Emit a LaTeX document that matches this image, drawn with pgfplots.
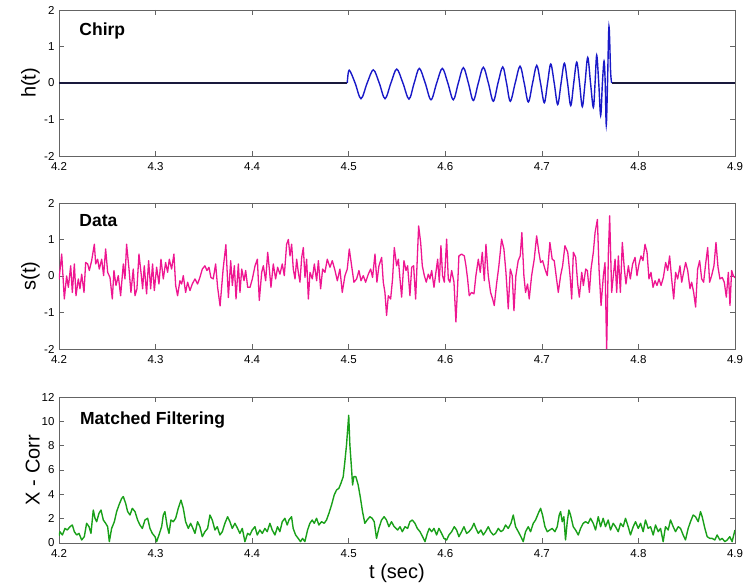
\documentclass[border=0pt]{standalone}
\usepackage{fontspec}
\setmainfont{Liberation Sans}
\usepackage{pgfplots}
\pgfplotsset{compat=1.18}
\definecolor{chirpblue}{RGB}{25,25,200}
\definecolor{chirpflat}{RGB}{25,25,60}
\definecolor{datamag}{RGB}{238,22,145}
\definecolor{corrgreen}{RGB}{25,160,25}
\definecolor{frame}{RGB}{100,100,100}

\pgfplotsset{
  panel/.style={
    scale only axis, width=676pt, height=146pt,
    xmin=4.2, xmax=4.9,
    xtick={4.2,4.3,4.4,4.5,4.6,4.7,4.8,4.9},
    xticklabels={4.2,4.3,4.4,4.5,4.6,4.7,4.8,4.9},
    tick align=inside, major tick length=5pt,
    tick style={color=frame, line width=0.6pt},
    axis line style={color=frame, line width=0.9pt},
    ticklabel style={font=\fontsize{11.5}{12}\selectfont},
    xticklabel style={yshift=-3pt},
    yticklabel style={xshift=-1pt},
    ylabel style={font=\fontsize{20}{22}\selectfont, at={(axis description cs:-0.028,0.5)}, anchor=south, inner sep=0pt},
    xlabel style={font=\fontsize{20}{22}\selectfont, at={(axis description cs:0.5,-0.14)}, anchor=north, inner sep=0pt},
    anchor=south west,
  },
}
\tikzset{paneltitle/.style={anchor=west, font=\bfseries\fontsize{17.5}{19}\selectfont, inner sep=0pt}}

\begin{document}
\begin{tikzpicture}

% Chirp
\begin{axis}[panel, at={(0pt,387pt)}, ymin=-2, ymax=2,
  ytick={-2,-1,0,1,2}, yticklabels={-2,-1,0,1,2}, ylabel={h(t)}]
\addplot[chirpflat, line width=1.2pt] coordinates {(4.2,0) (4.4985,0)};
\addplot[chirpflat, line width=1.2pt] coordinates {(4.7723,0) (4.9,0)};
\addplot[chirpblue, line width=1.4pt, smooth, tension=0.55] coordinates {
(4.4985,0) (4.5005,0.35) (4.5066,0) (4.5127,-0.43) (4.5191,0) (4.5255,0.36) (4.5316,0) (4.5376,-0.43)
(4.5437,0) (4.5497,0.38) (4.5561,0) (4.5624,-0.44) (4.5678,0) (4.5731,0.40) (4.5792,0) (4.5852,-0.46)
(4.5911,0) (4.5969,0.40) (4.6026,0) (4.6083,-0.46) (4.6135,0) (4.6187,0.42) (4.6239,0) (4.6290,-0.48)
(4.6342,0) (4.6394,0.43) (4.6446,0) (4.6497,-0.50) (4.6546,0) (4.6595,0.44) (4.6634,0) (4.6673,-0.50)
(4.6724,0) (4.6774,0.46) (4.6817,0) (4.6860,-0.52) (4.6904,0) (4.6947,0.48) (4.6986,0) (4.7025,-0.54)
(4.7059,0) (4.7092,0.52) (4.7128,0) (4.7164,-0.59) (4.7199,0) (4.7233,0.54) (4.7266,0) (4.7299,-0.62)
(4.7330,0) (4.7361,0.57) (4.7390,0) (4.7419,-0.65) (4.7447,0) (4.7475,0.70) (4.7504,0) (4.7533,-0.67)
(4.7551,0) (4.7568,0.76) (4.7589,0) (4.7609,-0.89) (4.7627,0) (4.7644,0.60) (4.7656,0) (4.7667,-1.15)
(4.7680,0) (4.7695,1.55) (4.7712,0.30) (4.7723,0)};
\node[paneltitle] at (axis description cs:0.03,0.856) {Chirp};
\end{axis}

% Data
\begin{axis}[panel, at={(0pt,194pt)}, ymin=-2, ymax=2,
  ytick={-2,-1,0,1,2}, yticklabels={-2,-1,0,1,2}, ylabel={s(t)}]
\addplot[datamag, line width=1.3pt, line join=round] coordinates {
(4.2000,-0.10)(4.2028,0.60)(4.2055,-0.63)(4.2079,0.00)(4.2097,-0.31)(4.2121,0.28)(4.2138,-0.45)(4.2159,0.33)(4.2176,-0.54)(4.2200,-0.08)(4.2217,-0.35)(4.2235,0.05)(4.2259,-0.45)(4.2276,0.37)(4.2297,0.33)(4.2314,0.15)(4.2338,0.42)(4.2366,0.87)(4.2380,0.33)(4.2400,0.46)(4.2417,0.19)(4.2442,0.46)(4.2462,0.01)(4.2483,0.74)(4.2504,0.10)(4.2528,-0.04)(4.2552,-0.63)(4.2569,0.15)(4.2590,-0.26)(4.2614,0.01)(4.2638,-0.54)(4.2666,0.33)(4.2683,-0.08)(4.2700,0.87)(4.2725,0.19)(4.2745,-0.45)(4.2769,0.19)(4.2787,-0.54)(4.2807,-0.35)(4.2828,0.60)(4.2849,0.10)(4.2866,-0.35)(4.2883,0.28)(4.2907,-0.49)(4.2928,0.42)(4.2949,-0.35)(4.2969,0.33)(4.2987,-0.40)(4.3011,0.24)(4.3035,-0.22)(4.3056,0.46)(4.3080,-0.08)(4.3104,0.37)(4.3125,0.10)(4.3142,0.46)(4.3166,0.19)(4.3190,0.60)(4.3208,-0.26)(4.3228,-0.54)(4.3252,-0.13)(4.3270,-0.22)(4.3287,0.01)(4.3311,-0.45)(4.3332,-0.17)(4.3356,-0.40)(4.3380,-0.22)(4.3408,-0.08)(4.3435,-0.22)(4.3459,-0.04)(4.3484,0.19)(4.3511,0.28)(4.3532,0.15)(4.3553,0.24)(4.3573,-0.04)(4.3597,-0.08)(4.3622,0.33)(4.3642,-0.30)(4.3668,-0.82)(4.3700,0.20)(4.3728,0.86)
(4.3754,-0.59)(4.3778,0.42)(4.3795,-0.26)(4.3816,0.28)(4.3833,-0.63)(4.3857,0.33)(4.3874,-0.45)(4.3892,0.19)(4.3916,-0.13)(4.3933,0.15)(4.3954,-0.31)(4.3978,-0.31)(4.4002,-0.08)(4.4030,0.28)(4.4054,0.46)(4.4074,-0.67)(4.4099,0.10)(4.4116,0.28)(4.4140,-0.13)(4.4161,0.65)(4.4178,0.19)(4.4195,-0.31)(4.4219,0.33)(4.4243,-0.08)(4.4264,0.24)(4.4288,0.05)(4.4312,0.33)(4.4333,0.01)(4.4357,0.87)(4.4375,1.00)(4.4392,0.55)(4.4409,0.87)(4.4426,0.19)(4.4444,-0.08)(4.4461,0.46)(4.4478,0.10)(4.4495,-0.17)(4.4513,0.51)(4.4530,0.78)(4.4547,-0.04)(4.4564,0.46)(4.4582,-0.63)(4.4599,0.10)(4.4623,-0.08)(4.4644,0.33)(4.4668,-0.13)(4.4686,0.42)(4.4709,-0.35)(4.4730,0.19)(4.4754,0.10)(4.4778,0.46)(4.4806,0.24)(4.4830,0.42)(4.4858,0.15)(4.4882,-0.13)(4.4909,0.19)(4.4933,-0.45)(4.4961,0.01)(4.4985,0.19)(4.5006,0.74)(4.5030,0.28)(4.5054,-0.17)(4.5082,-0.08)(4.5106,0.15)(4.5127,-0.13)(4.5151,0.01)(4.5175,-0.17)(4.5203,0.05)(4.5227,0.19)(4.5247,-0.04)(4.5272,0.60)(4.5292,-0.17)(4.5313,0.28)(4.5341,0.51)(4.5358,-0.17)(4.5375,-0.45)(4.5392,-1.08)(4.5410,-0.54)(4.5434,-0.63)(4.5454,-0.08)(4.5472,0.78)(4.5496,0.28)
(4.5514,0.46)(4.5531,-0.08)(4.5548,-0.58)(4.5572,0.42)(4.5593,0.15)(4.5610,0.28)(4.5634,-0.54)(4.5652,0.24)(4.5672,0.28)(4.5693,-0.63)(4.5707,0.28)(4.5724,1.37)(4.5745,0.92)(4.5762,0.28)(4.5783,0.01)(4.5803,-0.17)(4.5824,0.05)(4.5841,-0.08)(4.5859,0.15)(4.5883,-0.31)(4.5903,0.10)(4.5921,0.46)(4.5938,-0.17)(4.5955,0.83)(4.5972,0.01)(4.5990,-0.17)(4.6014,1.01)(4.6031,-0.08)(4.6048,-0.17)(4.6066,0.15)(4.6090,-0.17)(4.6110,-1.26)(4.6128,-0.26)(4.6141,0.55)(4.6169,0.60)(4.6197,0.55)(4.6214,0.28)(4.6231,-0.08)(4.6248,-0.54)(4.6272,-0.45)(4.6297,-0.49)(4.6317,0.01)(4.6342,0.46)(4.6362,0.10)(4.6383,0.65)(4.6404,-0.13)(4.6421,0.87)(4.6445,0.01)(4.6469,-0.45)(4.6490,-0.63)(4.6507,-0.81)(4.6531,-0.22)(4.6555,0.28)(4.6583,1.01)(4.6607,0.74)(4.6628,0.10)(4.6652,-0.90)(4.6673,0.19)(4.6693,0.01)(4.6711,-0.95)(4.6731,0.01)(4.6755,0.42)(4.6776,0.55)(4.6793,1.19)(4.6814,0.01)(4.6831,-0.45)(4.6852,-0.22)(4.6869,-0.63)(4.6894,0.01)(4.6921,0.46)(4.6946,1.10)(4.6969,0.65)(4.6987,0.37)(4.7008,0.42)(4.7032,0.19)(4.7056,0.01)(4.7083,0.92)(4.7107,0.46)(4.7128,0.42)(4.7152,-0.08)(4.7170,-0.45)(4.7194,0.01)(4.7215,0.28)(4.7239,0.83)
(4.7268,0.65)(4.7292,0.01)(4.7309,-0.63)(4.7326,0.65)(4.7350,0.51)(4.7371,-0.22)(4.7388,-0.58)(4.7413,0.10)(4.7430,-0.26)(4.7454,0.19)(4.7471,0.15)(4.7492,-0.45)(4.7509,0.19)(4.7533,0.65)(4.7551,1.19)(4.7575,1.55)(4.7592,0.19)(4.7613,-0.81)(4.7637,0.01)(4.7654,0.37)(4.7671,-2.05)(4.7689,0.65)(4.7702,1.65)(4.7723,-0.45)(4.7740,0.01)(4.7758,0.46)(4.7775,-0.45)(4.7792,0.55)(4.7813,-0.45)(4.7833,0.92)(4.7854,0.19)(4.7871,-0.22)(4.7896,0.28)(4.7916,-0.08)(4.7940,0.33)(4.7965,0.51)(4.7985,0.01)(4.8006,0.33)(4.8027,0.55)(4.8047,0.42)(4.8068,0.87)(4.8089,0.65)(4.8109,-0.08)(4.8130,0.10)(4.8151,-0.31)(4.8172,-0.13)(4.8192,-0.26)(4.8213,-0.08)(4.8234,-0.26)(4.8258,-0.04)(4.8282,0.37)(4.8303,0.15)(4.8323,0.55)(4.8344,-0.08)(4.8365,-0.63)(4.8385,0.10)(4.8406,-0.08)(4.8430,0.28)(4.8448,-0.17)(4.8472,0.15)(4.8489,0.37)(4.8510,0.15)(4.8534,-0.35)(4.8551,-0.17)(4.8572,-0.45)(4.8592,-0.85)(4.8613,0.19)(4.8634,0.42)(4.8655,-0.08)(4.8675,-0.17)(4.8696,0.33)(4.8717,0.78)(4.8737,-0.17)(4.8758,0.01)(4.8782,0.28)(4.8803,0.92)(4.8824,0.24)(4.8844,-0.08)(4.8868,-0.04)(4.8889,-0.17)(4.8910,-0.58)(4.8931,0.10)(4.8948,-0.81)(4.8965,0.15)(4.8982,0.01)(4.9000,-0.05)};
\node[paneltitle] at (axis description cs:0.03,0.88) {Data};
\end{axis}

% Matched filtering
\begin{axis}[panel, at={(0pt,0pt)}, ymin=0, ymax=12,
  ytick={0,2,4,6,8,10,12}, yticklabels={0,2,4,6,8,10,12}, ylabel={X - Corr}, xlabel={t (sec)}]
\addplot[corrgreen, line width=1.4pt, line join=round] coordinates {
(4.2000,0.60)(4.2010,0.93)(4.2035,0.66)(4.2062,1.20)(4.2086,1.07)(4.2114,1.34)(4.2138,1.48)(4.2159,0.93)(4.2183,0.66)(4.2207,0.79)(4.2235,0.25)(4.2262,0.52)(4.2286,1.62)(4.2311,1.34)(4.2331,0.79)(4.2355,2.71)(4.2373,2.03)(4.2390,1.75)(4.2414,2.44)(4.2435,2.71)(4.2459,1.89)(4.2483,1.62)(4.2504,1.34)(4.2521,0.11)(4.2545,1.20)(4.2573,1.75)(4.2597,2.58)(4.2621,3.12)(4.2649,3.67)(4.2666,3.81)(4.2690,3.26)(4.2711,2.58)(4.2735,2.30)(4.2759,2.85)(4.2787,2.58)(4.2814,1.89)(4.2838,1.48)(4.2863,1.20)(4.2890,1.89)(4.2918,2.03)(4.2942,1.20)(4.2966,0.79)(4.2994,0.52)(4.3011,0.11)(4.3035,0.66)(4.3063,1.34)(4.3080,2.30)(4.3097,2.58)(4.3121,1.34)(4.3139,0.79)(4.3159,1.89)(4.3183,1.75)(4.3208,2.03)(4.3235,2.85)(4.3263,3.53)(4.3287,2.85)(4.3311,1.75)(4.3339,1.20)(4.3363,1.62)(4.3387,1.20)(4.3408,0.79)(4.3435,1.75)(4.3459,1.34)(4.3484,0.52)(4.3511,0.93)(4.3539,1.20)(4.3563,2.30)(4.3587,1.89)(4.3615,1.07)(4.3639,1.34)(4.3666,0.66)(4.3691,0.93)(4.3718,1.62)(4.3746,2.16)(4.3770,1.75)(4.3794,1.20)(4.3822,1.62)(4.3849,1.20)(4.3873,0.79)(4.3898,1.20)(4.3925,0.11)(4.3953,0.79)(4.3977,0.66)(4.4001,1.07)(4.4029,1.34)(4.4053,0.66)(4.4080,1.07)(4.4105,0.79)(4.4132,1.20)(4.4156,0.93)(4.4184,1.62)(4.4208,1.07)(4.4236,0.66)(4.4263,1.34)(4.4287,0.93)(4.4312,1.75)(4.4339,2.03)(4.4363,1.48)(4.4381,1.89)(4.4408,2.16)(4.4425,1.20)(4.4450,0.66)(4.4477,0.38)(4.4501,0.11)(4.4522,0.38)(4.4546,0.11)(4.4574,1.07)(4.4598,1.62)(4.4622,1.89)(4.4643,1.62)(4.4667,2.03)(4.4691,1.48)(4.4719,1.75)(4.4746,1.62)(4.4770,1.89)(4.4795,2.44)(4.4822,3.12)(4.4850,3.95)(4.4874,4.36)(4.4898,4.49)(4.4919,4.90)(4.4943,5.45)(4.4960,6.68)(4.4977,8.05)(4.5000,10.50)(4.5012,8.05)(4.5029,6.14)(4.5040,4.77)(4.5053,5.45)(4.5074,5.45)(4.5098,4.77)(4.5122,3.67)(4.5143,2.58)(4.5167,1.62)(4.5191,1.89)(4.5219,2.16)(4.5243,2.03)(4.5264,1.75)(4.5288,0.38)(4.5312,1.20)(4.5340,1.89)(4.5367,2.16)(4.5391,1.89)(4.5416,1.34)(4.5443,1.75)(4.5471,1.34)
(4.5507,1.07)(4.5531,1.34)(4.5555,0.93)(4.5583,1.34)(4.5610,1.20)(4.5634,1.75)(4.5658,1.89)(4.5686,1.62)(4.5710,1.20)(4.5738,0.93)(4.5765,0.52)(4.5790,0.11)(4.5814,0.79)(4.5834,1.20)(4.5859,0.93)(4.5883,1.20)(4.5910,0.66)(4.5934,1.20)(4.5962,0.79)(4.5986,0.38)(4.6014,0.25)(4.6038,0.66)(4.6066,0.93)(4.6093,1.34)(4.6117,1.07)(4.6141,0.52)(4.6169,0.93)(4.6193,1.34)(4.6221,0.79)(4.6245,0.93)(4.6273,1.20)(4.6297,1.62)(4.6317,1.20)(4.6342,0.79)(4.6369,1.07)(4.6393,0.66)(4.6417,0.93)(4.6445,1.34)(4.6469,0.93)(4.6497,0.66)(4.6521,0.79)(4.6549,1.20)(4.6576,0.93)(4.6600,1.07)(4.6624,1.48)(4.6652,1.20)(4.6680,1.62)(4.6704,2.30)(4.6728,1.34)(4.6756,0.93)(4.6783,0.52)(4.6807,0.11)(4.6831,0.93)(4.6859,1.34)(4.6883,0.93)(4.6911,1.62)(4.6935,1.89)(4.6963,2.44)(4.6987,2.85)(4.7007,2.30)(4.7032,1.34)(4.7056,0.93)(4.7083,1.07)(4.7107,1.20)(4.7135,0.93)(4.7159,1.34)(4.7180,2.30)(4.7194,2.58)(4.7211,1.75)(4.7228,2.16)(4.7245,0.25)(4.7263,1.75)(4.7280,2.71)(4.7297,2.30)(4.7325,1.34)(4.7349,1.07)(4.7377,0.66)(4.7401,1.20)(4.7428,1.62)(4.7452,1.75)(4.7480,1.62)(4.7504,2.03)(4.7532,1.62)(4.7556,1.07)(4.7584,2.16)(4.7608,1.34)(4.7635,2.03)(4.7659,1.34)(4.7687,1.89)(4.7711,1.07)(4.7739,1.62)(4.7763,1.34)(4.7791,0.93)(4.7815,1.62)(4.7842,1.34)(4.7866,2.03)(4.7894,1.34)(4.7918,0.66)(4.7946,1.34)(4.7970,1.75)(4.7998,1.20)(4.8022,1.62)(4.8049,0.93)(4.8073,1.89)(4.8101,1.20)(4.8125,1.34)(4.8153,0.66)(4.8177,1.48)(4.8205,0.93)(4.8229,1.20)(4.8256,0.11)(4.8280,1.34)(4.8308,1.07)(4.8332,1.89)(4.8360,1.34)(4.8384,0.93)(4.8412,1.34)(4.8436,1.20)(4.8463,0.66)(4.8487,0.25)(4.8515,1.20)(4.8539,1.75)(4.8567,2.30)(4.8591,2.16)(4.8619,1.75)(4.8643,2.58)(4.8660,2.16)(4.8688,1.20)(4.8712,0.52)(4.8739,0.38)(4.8763,0.38)(4.8791,0.25)(4.8815,0.66)(4.8843,0.25)(4.8867,0.38)(4.8895,0.11)(4.8919,0.25)(4.8946,0.52)(4.8970,0.11)(4.9000,1.07)};
\node[paneltitle] at (axis description cs:0.031,0.84) {Matched Filtering};
\end{axis}

\pgfresetboundingbox
\path (-59pt,-43pt) rectangle (695pt,543pt);
\end{tikzpicture}
\end{document}
